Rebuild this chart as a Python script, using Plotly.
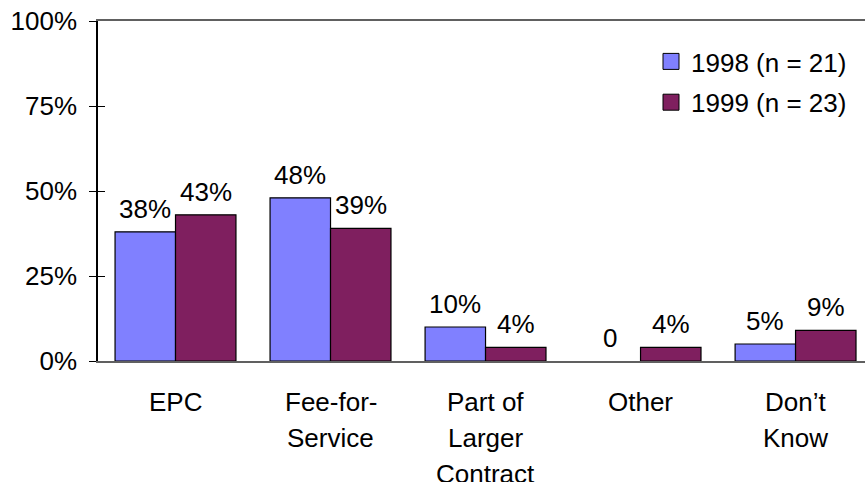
import plotly.graph_objects as go

# Contract types and share of respondents per survey year
categories = ["EPC", "Fee-for-<br>Service", "Part of<br>Larger<br>Contract", "Other", "Don\u2019t<br>Know"]
series_names = ["1998 (n = 21)", "1999 (n = 23)"]
values_1998 = [38, 48, 10, 0, 5]
values_1999 = [43, 39, 4, 4, 9]
colors = ["#8080FF", "#7F1F5F"]
y_ticks = [0, 25, 50, 75, 100]
y_tick_labels = ["0%", "25%", "50%", "75%", "100%"]

FONT = "Liberation Sans, Arial, sans-serif"
FS = 26
BAR_GAP = 0.22

x_idx = list(range(len(categories)))
series = [values_1998, values_1999]

fig = go.Figure()
for name, vals, col in zip(series_names, series, colors):
    fig.add_trace(go.Bar(
        x=x_idx, y=vals, name=name, showlegend=False,
        marker=dict(color=col,
                    line=dict(color="black", width=[1.2 if v else 0 for v in vals])),
    ))

# legend entries with larger square swatches
for name, col, grp in zip(series_names, colors, ["a", "b"]):
    fig.add_trace(go.Scatter(
        x=[None], y=[None], mode="markers", name=name, legendgroup=grp,
        marker=dict(symbol="square", size=16, color=col,
                    line=dict(color="black", width=1)),
    ))

# value labels above each bar
bar_w = (1 - BAR_GAP) / len(series)
for s, vals in enumerate(series):
    off = (s - (len(series) - 1) / 2) * bar_w
    for i, v in enumerate(vals):
        fig.add_annotation(
            x=i + off, y=v, xref="x", yref="y",
            text=f"{v}%" if v else "0",
            showarrow=False, yanchor="bottom", yshift=6,
            font=dict(family=FONT, size=FS, color="black"),
        )

# category labels, one line at a time for wider line spacing
for i, cat in enumerate(categories):
    for j, line in enumerate(cat.split("<br>")):
        fig.add_annotation(
            x=i, y=0, xref="x", yref="y", text=line, showarrow=False,
            yanchor="middle", yshift=-41 - 36 * j,
            font=dict(family=FONT, size=FS, color="black"),
        )

fig.update_layout(
    width=865, height=482,
    margin=dict(l=98, r=0, t=21, b=121),
    paper_bgcolor="white", plot_bgcolor="white",
    barmode="group", bargap=BAR_GAP, bargroupgap=0,
    font=dict(family=FONT, size=FS, color="black"),
    showlegend=True,
    legend=dict(
        x=0.721, y=0.95, xanchor="left", yanchor="top",
        font=dict(family=FONT, size=FS, color="black"),
        bgcolor="rgba(0,0,0,0)", tracegroupgap=4, itemsizing="trace",
    ),
    xaxis=dict(
        range=[-0.5, 4.448], showticklabels=False, ticks="",
        showgrid=False, zeroline=False,
        showline=True, linecolor="#606060", linewidth=1.5, mirror=True,
    ),
    yaxis=dict(
        range=[0, 100], tickvals=y_ticks, ticktext=y_tick_labels,
        ticks="outside", ticklen=7, tickcolor="black", tickwidth=1,
        showline=True, linecolor="black", linewidth=1.5,
        showgrid=False, zeroline=False, ticklabelstandoff=7,
        tickfont=dict(family=FONT, size=FS, color="black"),
    ),
    yaxis2=dict(
        range=[0, 100], tickvals=y_ticks, overlaying="y", side="left",
        ticks="inside", ticklen=7, tickcolor="black", tickwidth=1,
        showticklabels=False, showgrid=False, zeroline=False, showline=False,
    ),
)
# invisible trace so the secondary axis is drawn
fig.add_trace(go.Scatter(x=[0], y=[0], yaxis="y2", mode="markers",
                         marker=dict(opacity=0), showlegend=False, hoverinfo="skip"))

fig.write_html("out.html")
